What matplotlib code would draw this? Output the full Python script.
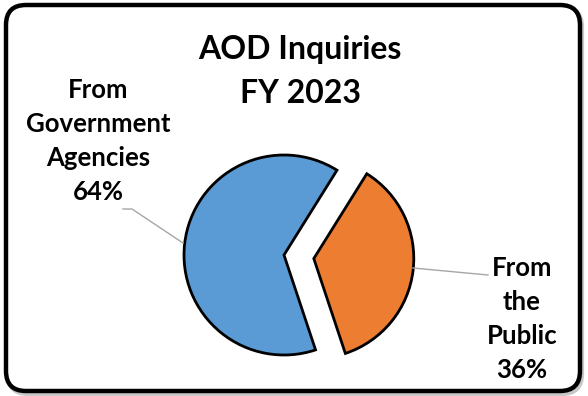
import matplotlib
matplotlib.use("Agg")
import matplotlib.pyplot as plt
from matplotlib.patches import FancyBboxPatch

title = "AOD Inquiries\nFY 2023"
categories = ["From\nGovernment\nAgencies", "From\nthe\nPublic"]
values = [64, 36]
colors = ["#5B9BD5", "#ED7D31"]
explode_px = [0, 30]

W, H = 588, 396
fig = plt.figure(figsize=(W / 100, H / 100), dpi=100)
ax = fig.add_axes([0, 0, 1, 1])

# border with shadow
shadow = FancyBboxPatch((8, 2), W - 14, H - 9, boxstyle="round,pad=0,rounding_size=20",
                        fc="none", ec="#c8c8c8", lw=3, zorder=0)
ax.add_patch(shadow)
frame = FancyBboxPatch((6, 5), W - 14, H - 10, boxstyle="round,pad=0,rounding_size=20",
                       fc="white", ec="black", lw=3.2, zorder=1)
ax.add_patch(frame)

cx, cy, r = 284, H - 255, 100
wedges, _ = ax.pie(values, colors=colors, explode=explode_px, startangle=-71.6,
                   counterclock=False, center=(cx, cy), radius=r,
                   wedgeprops=dict(edgecolor="black", linewidth=2.0),
                   frame=False)
for w in wedges:
    w.set_zorder(3)
ax.set_xlim(0, W)
ax.set_ylim(0, H)
ax.set_aspect("equal")
ax.axis("off")

font = "Lato"
ax.text(300, H - 71.5, title, ha="center", va="center", fontsize=23,
        fontweight="bold", family=font, linespacing=1.62, zorder=5)

labels = [f"{c}\n{v}%" for c, v in zip(categories, values)]
ax.text(98, H - 141.5, labels[0], ha="center", va="center", fontsize=18.5,
        fontweight="bold", family=font, linespacing=1.5, zorder=5)
ax.text(522, H - 319.5, labels[1], ha="center", va="center", fontsize=18.5,
        fontweight="bold", family=font, linespacing=1.5, zorder=5)

# leader lines
ax.plot([123, 132, 183], [H - 209, H - 209, H - 243], color="#a6a6a6", lw=1, zorder=4)
ax.plot([413, 488], [H - 268, H - 275], color="#a6a6a6", lw=1, zorder=4)

fig.savefig("out.png", dpi=100)
